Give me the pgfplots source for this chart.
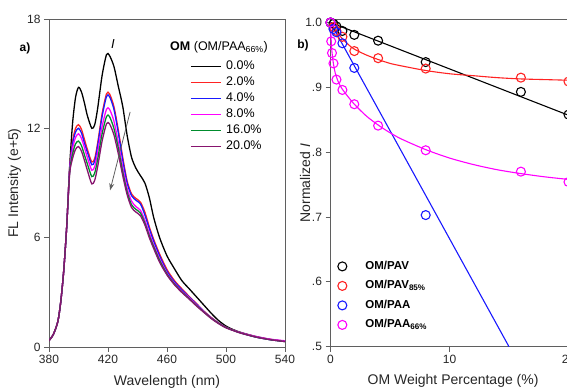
\documentclass[border=0pt]{standalone}
\usepackage{pgfplots}
\usepackage{pgfplotstable}
\pgfplotsset{compat=1.18}
\usepackage{fontspec}
\setmainfont{Liberation Sans}
\usetikzlibrary{arrows.meta}

\definecolor{axgray}{RGB}{95,95,95}
\definecolor{cRed}{RGB}{255,35,35}
\definecolor{cBlue}{RGB}{25,25,255}
\definecolor{cMag}{RGB}{255,0,255}
\definecolor{cGreen}{RGB}{0,140,45}
\definecolor{cPurple}{RGB}{135,20,110}

\pgfplotstableread{
wl   s0    s2    s4    s8    s16   s20
380  0.35  0.35  0.35  0.35  0.35  0.35
383  0.70  0.70  0.70  0.70  0.70  0.70
386  1.40  1.40  1.40  1.40  1.40  1.40
388  2.50  2.50  2.50  2.50  2.50  2.50
390  4.20  4.20  4.20  4.20  4.20  4.20
392  6.60  6.60  6.60  6.60  6.60  6.60
394  9.90  9.80  9.75  9.70  9.60  9.50
396  12.3  11.3  11.15 10.9  10.6  10.35
398  13.7  12.0  11.8  11.5  11.15 10.85
400  14.25 12.2  12.0  11.7  11.3  11.0
402  14.0  11.95 11.75 11.45 11.05 10.75
404  13.4  11.4  11.2  10.95 10.55 10.25
406  12.7  10.85 10.7  10.4  10.05 9.70
409  12.0  10.15 10.0  9.70  9.35  8.95
411  12.2  10.35 10.2  9.90  9.55  9.15
413  13.1  11.2  11.05 10.7  10.3  9.90
416  14.9  12.8  12.65 12.1  11.7  11.3
419  16.05 13.9  13.75 13.05 12.65 12.25
421  16.0  13.9  13.75 13.05 12.65 12.25
424  15.4  13.2  13.05 12.4  12.0  11.65
427  14.3  11.9  11.75 11.2  10.9  10.6
430  13.2  10.4  10.25 9.85  9.60  9.40
433  11.6  9.10  9.00  8.70  8.50  8.35
436  10.4  8.40  8.30  8.00  7.80  7.65
439  9.80  8.15  8.05  7.70  7.55  7.40
442  9.40  7.95  7.85  7.50  7.35  7.20
445  9.00  7.40  7.25  6.95  6.80  6.70
448  8.20  6.60  6.50  6.25  6.10  6.00
451  7.10  5.90  5.80  5.60  5.50  5.40
455  6.00  5.10  5.00  4.85  4.75  4.65
460  5.00  4.25  4.15  4.05  4.00  3.95
465  4.30  3.65  3.58  3.50  3.46  3.42
470  3.65  3.20  3.14  3.07  3.03  3.00
475  3.20  2.78  2.74  2.70  2.66  2.63
480  2.75  2.38  2.35  2.32  2.28  2.25
485  2.30  1.97  1.95  1.94  1.92  1.90
490  1.85  1.62  1.60  1.60  1.58  1.56
495  1.45  1.32  1.31  1.31  1.30  1.28
500  1.15  1.08  1.07  1.08  1.07  1.05
505  0.95  0.92  0.91  0.92  0.91  0.90
510  0.80  0.78  0.77  0.79  0.77  0.76
520  0.58  0.56  0.55  0.58  0.55  0.55
530  0.42  0.41  0.40  0.43  0.40  0.40
540  0.32  0.30  0.30  0.34  0.30  0.30
}\spectra

\pgfplotstableread{
x     y
0     1.000
0.25  0.998
0.5   0.994
1     0.987
2     0.981
4     0.972
8     0.939
16    0.893
20    0.858
}\pavpts
\pgfplotstableread{
x     y
0     1.000
20    0.857
}\pavfit

\pgfplotstableread{
x     y
0     1.000
0.25  0.993
0.5   0.987
1     0.978
2     0.956
4     0.945
8     0.929
16    0.915
20    0.909
}\pavbpts
\pgfplotstableread{
x     y
0     1.000
0.5   0.986
1     0.975
1.5   0.966
2     0.959
3     0.950
4     0.943
5     0.937
6     0.933
8     0.926
10    0.921
12    0.918
14    0.915
16    0.913
18    0.912
20    0.911
}\pavbfit

\pgfplotstableread{
x     y
0     1.000
0.25  0.990
0.5   0.985
1     0.968
2     0.930
8     0.703
}\paapts
\pgfplotstableread{
x     y
0     1.000
15    0.500
}\paafit

\pgfplotstableread{
x      y
0      1.000
0.06   0.971
0.125  0.953
0.25   0.937
0.5    0.912
1      0.896
2      0.874
4      0.841
8      0.803
16     0.770
20     0.754
}\paabpts
\pgfplotstableread{
x     y
0     1.000
0.03  0.985
0.06  0.972
0.1   0.960
0.15  0.950
0.25  0.936
0.4   0.922
0.6   0.911
0.8   0.903
1     0.897
1.5   0.885
2     0.874
3     0.856
4     0.842
5     0.830
6     0.820
8     0.804
10    0.791
12    0.781
14    0.773
16    0.767
18    0.762
20    0.758
}\paabfit

\pgfplotsset{
  common/.style={
    scale only axis,
    axis line style={axgray, line width=0.9pt},
    tick style={axgray, line width=0.8pt},
    tick align=outside,
    major tick length=5pt,
    xtick pos=lower, ytick pos=left,
    tick label style={font=\fontsize{12}{14}\selectfont, text=black!85},
    label style={font=\fontsize{14}{16}\selectfont, text=black!85},
    /pgf/number format/assume math mode=true,
  }
}

\begin{document}
\begin{tikzpicture}[x=1pt,y=1pt]
\useasboundingbox (0,0) rectangle (567,390);

% ---------- panel a ----------
\begin{axis}[common,
  at={(49pt,43pt)}, anchor=south west,
  width=236pt, height=328pt,
  xmin=380, xmax=540, ymin=0, ymax=18,
  xtick={380,420,460,500,540},
  ytick={0,6,12,18},
  xlabel={Wavelength (nm)},
  ylabel={FL Intensity (e+5)},
  x label style={at={(axis description cs:0.5,-0.106)}, anchor=center},
  y label style={at={(axis description cs:-0.146,0.5)}, anchor=center},
  legend style={at={(axis description cs:0.598,0.881)}, anchor=north west,
    draw=none, fill=none, inner sep=0pt, row sep=0pt,
    font=\fontsize{12.5}{14}\selectfont,
    nodes={inner sep=1.5pt, text height=9.5pt, text depth=3.6pt},
    /tikz/every odd column/.style={column sep=3pt}},
  legend cell align=left,
  legend image code/.code={\draw[#1] (0pt,0pt) -- (30pt,0pt);},
  every axis plot/.append style={line width=1.3pt, smooth, tension=0.45},
]
\addplot[black]   table[x=wl, y=s0]  {\spectra}; \addlegendentry{0.0\%}
\addplot[cRed]    table[x=wl, y=s2]  {\spectra}; \addlegendentry{2.0\%}
\addplot[cBlue]   table[x=wl, y=s4]  {\spectra}; \addlegendentry{4.0\%}
\addplot[cMag]    table[x=wl, y=s8]  {\spectra}; \addlegendentry{8.0\%}
\addplot[cGreen]  table[x=wl, y=s16] {\spectra}; \addlegendentry{16.0\%}
\addplot[cPurple] table[x=wl, y=s20] {\spectra}; \addlegendentry{20.0\%}
\draw[axgray, line width=0.8pt, -{Stealth[length=7pt,width=5pt]}] (axis cs:435,12.9) -- (axis cs:421.4,8.6);
\node[font=\itshape\fontsize{13}{15}\selectfont] at (axis cs:423.4,16.6) {I};
\node[font=\fontsize{12.5}{14}\selectfont] at (axis cs:495.3,16.46) {\textbf{OM} (OM/PAA\textsubscript{66\%})};
\end{axis}

\node[font=\bfseries\fontsize{12}{14}\selectfont] at (25,342) {a)};
\node[font=\bfseries\fontsize{12}{14}\selectfont] at (303,345) {b)};

% ---------- panel b ----------
\begin{axis}[common,
  at={(330.5pt,43.3pt)}, anchor=south west,
  width=238pt, height=327.4pt,
  xmin=0, xmax=20, ymin=0.5, ymax=1.005,
  clip=false,
  xtick={0,10,20},
  ytick={0.5,0.6,0.7,0.8,0.9,1.0},
  yticklabels={.5,.6,.7,.8,.9,1.0},
  xlabel={OM Weight Percentage (\%)},
  ylabel={Normalized \textit{I}},
  x label style={at={(axis description cs:0.515,-0.105)}, anchor=center},
  y label style={at={(axis description cs:-0.107,0.5)}, anchor=center},
  legend style={at={(axis description cs:0.030,0.268)}, anchor=north west,
    draw=none, fill=none, inner sep=0pt, row sep=5pt,
    font=\bfseries\fontsize{11.5}{13}\selectfont,
    nodes={inner sep=1.5pt, text height=8.5pt, text depth=3pt},
    /tikz/every odd column/.style={column sep=17pt}},
  legend cell align=left,
]
\addplot[black, line width=1.1pt, forget plot] table {\pavfit};
\addplot[cRed, line width=1.1pt, smooth, forget plot] table {\pavbfit};
\addplot[cBlue, line width=1.1pt, forget plot] table {\paafit};
\addplot[cMag, line width=1.1pt, smooth, forget plot] table {\paabfit};
\addplot[black, only marks, mark=o, mark size=4.5pt, line width=1.1pt] table {\pavpts};
\addlegendentry{OM/PAV}
\addplot[cRed, only marks, mark=o, mark size=4.5pt, line width=1.1pt] table {\pavbpts};
\addlegendentry{OM/PAV\textsubscript{85\%}}
\addplot[cBlue, only marks, mark=o, mark size=4.5pt, line width=1.1pt] table {\paapts};
\addlegendentry{OM/PAA}
\addplot[cMag, only marks, mark=o, mark size=4.5pt, line width=1.1pt] table {\paabpts};
\addlegendentry{OM/PAA\textsubscript{66\%}}
\end{axis}
\end{tikzpicture}
\end{document}
